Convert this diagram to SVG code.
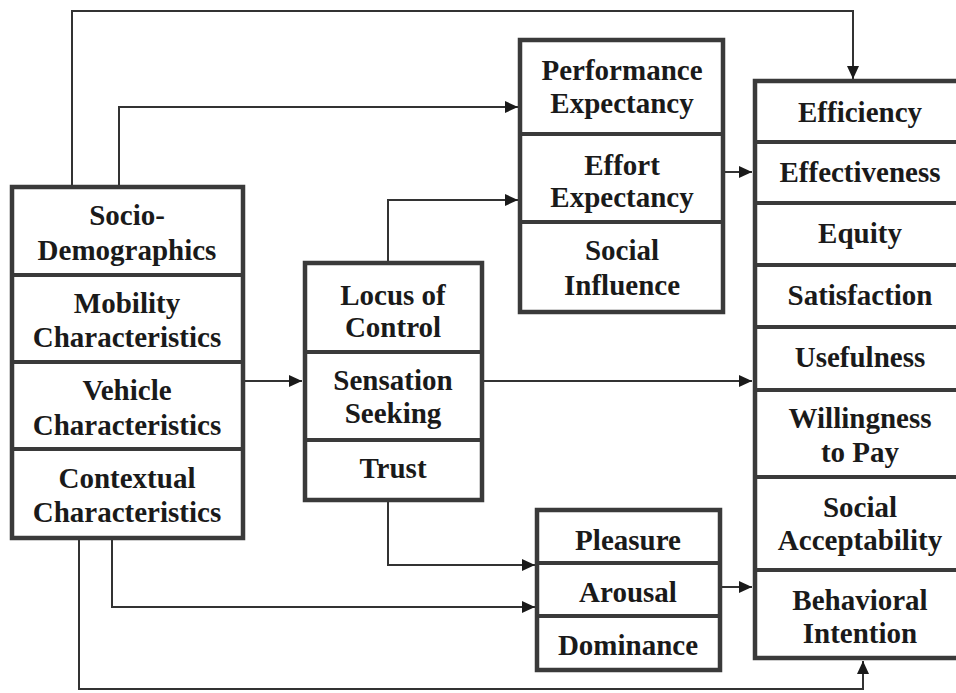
<svg xmlns="http://www.w3.org/2000/svg" width="956" height="693" viewBox="0 0 956 693">
<defs>
<marker id="arr" markerUnits="userSpaceOnUse" markerWidth="14" markerHeight="12" refX="13" refY="6" orient="auto">
<path d="M0,0 L13,6 L0,12 Z" fill="#1a1a1a"/>
</marker>
<style>
.box{fill:#fff;stroke:#3a3a3a;stroke-width:4.5}
.div{stroke:#3a3a3a;stroke-width:4;fill:none}
.t{font-family:"Liberation Serif","Times New Roman",serif;font-weight:bold;font-size:29px;fill:#1a1a1a;text-anchor:middle}
.c{fill:none;stroke:#333;stroke-width:2}
</style>
</defs>
<rect width="956" height="693" fill="#fff"/>
<g id="connectors">
<path class="c" d="M72,187 V11 H853 V79" marker-end="url(#arr)"/>
<path class="c" d="M119,187 V107 H518" marker-end="url(#arr)"/>
<path class="c" d="M388,263 V200 H518" marker-end="url(#arr)"/>
<path class="c" d="M243,381 H302" marker-end="url(#arr)"/>
<path class="c" d="M482,381 H752" marker-end="url(#arr)"/>
<path class="c" d="M725,172 H752" marker-end="url(#arr)"/>
<path class="c" d="M388,500 V565 H535" marker-end="url(#arr)"/>
<path class="c" d="M112,538 V607 H535" marker-end="url(#arr)"/>
<path class="c" d="M720,587 H752" marker-end="url(#arr)"/>
<path class="c" d="M79,538 V689 H863 V661" marker-end="url(#arr)"/>
</g>
<g id="antecedents">
<rect class="box" x="12" y="187" width="231" height="351"/>
<path class="div" d="M12,275 H243 M12,362 H243 M12,449 H243"/>
<text class="t" x="127" y="225">Socio-</text>
<text class="t" x="127" y="260">Demographics</text>
<text class="t" x="127" y="313">Mobility</text>
<text class="t" x="127" y="347">Characteristics</text>
<text class="t" x="127" y="400">Vehicle</text>
<text class="t" x="127" y="435">Characteristics</text>
<text class="t" x="127" y="488">Contextual</text>
<text class="t" x="127" y="522">Characteristics</text>
</g>
<g id="personality">
<rect class="box" x="305" y="263" width="177" height="237"/>
<path class="div" d="M305,352 H482 M305,440 H482"/>
<text class="t" x="393" y="305">Locus of</text>
<text class="t" x="393" y="337">Control</text>
<text class="t" x="393" y="390">Sensation</text>
<text class="t" x="393" y="423">Seeking</text>
<text class="t" x="393" y="478">Trust</text>
</g>
<g id="utaut">
<rect class="box" x="520" y="40" width="203" height="272"/>
<path class="div" d="M520,134 H723 M520,222 H723"/>
<text class="t" x="622" y="80">Performance</text>
<text class="t" x="622" y="113">Expectancy</text>
<text class="t" x="622" y="175">Effort</text>
<text class="t" x="622" y="207">Expectancy</text>
<text class="t" x="622" y="260">Social</text>
<text class="t" x="622" y="295">Influence</text>
</g>
<g id="pad">
<rect class="box" x="537" y="510" width="183" height="160"/>
<path class="div" d="M537,563 H720 M537,616 H720"/>
<text class="t" x="628" y="550">Pleasure</text>
<text class="t" x="628" y="602">Arousal</text>
<text class="t" x="628" y="655">Dominance</text>
</g>
<g id="outcomes">
<rect class="box" x="755" y="81" width="212" height="577"/>
<path class="div" d="M755,142 H967 M755,203 H967 M755,265 H967 M755,327 H967 M755,390 H967 M755,477 H967 M755,570 H967"/>
<text class="t" x="860" y="122">Efficiency</text>
<text class="t" x="860" y="182">Effectiveness</text>
<text class="t" x="860" y="243">Equity</text>
<text class="t" x="860" y="305">Satisfaction</text>
<text class="t" x="860" y="367">Usefulness</text>
<text class="t" x="860" y="428">Willingness</text>
<text class="t" x="860" y="462">to Pay</text>
<text class="t" x="860" y="517">Social</text>
<text class="t" x="860" y="550">Acceptability</text>
<text class="t" x="860" y="610">Behavioral</text>
<text class="t" x="860" y="643">Intention</text>
</g>
</svg>
